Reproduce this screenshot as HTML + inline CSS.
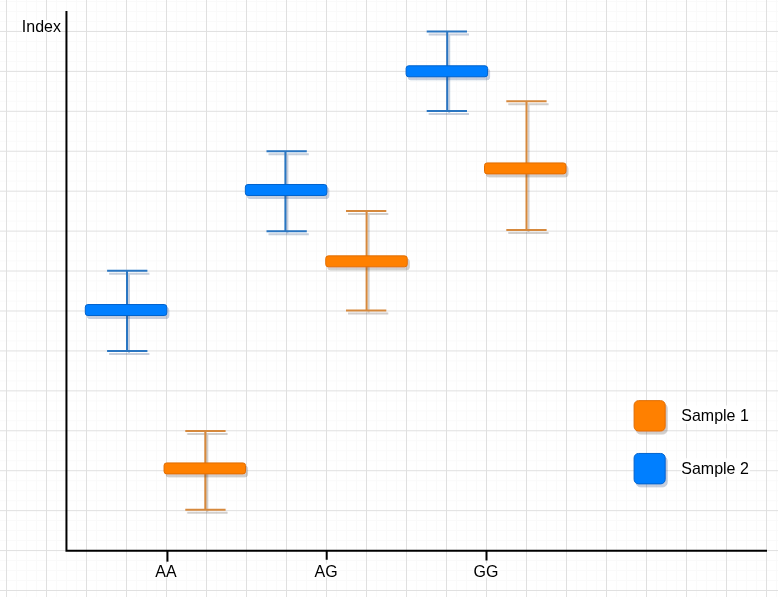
<!DOCTYPE html><html><head><meta charset="utf-8"><style>html,body{margin:0;padding:0;background:#fff;overflow:hidden}svg{display:block;filter:blur(0.4px)}text{font-family:"Liberation Sans",sans-serif;font-size:16px;fill:#000}</style></head><body><svg width="778" height="597" viewBox="0 0 778 598" preserveAspectRatio="none"><defs><filter id="nf" x="-10%" y="-10%" width="120%" height="120%"><feOffset dx="0" dy="0"/></filter><filter id="shb" x="-20%" y="-50%" width="140%" height="200%"><feGaussianBlur in="SourceAlpha" stdDeviation="0.6" result="b"/><feOffset in="b" dx="1.5" dy="2.8" result="o"/><feFlood flood-color="#2a4a80" flood-opacity="0.27"/><feComposite in2="o" operator="in" result="s"/><feMerge><feMergeNode in="s"/><feMergeNode in="SourceGraphic"/></feMerge></filter><filter id="sho" x="-20%" y="-50%" width="140%" height="200%"><feGaussianBlur in="SourceAlpha" stdDeviation="0.6" result="b"/><feOffset in="b" dx="1.5" dy="2.8" result="o"/><feFlood flood-color="#5a4a40" flood-opacity="0.27"/><feComposite in2="o" operator="in" result="s"/><feMerge><feMergeNode in="s"/><feMergeNode in="SourceGraphic"/></feMerge></filter></defs><rect width="778" height="598" fill="#fff"/><path d="M16.5 0V598M26.5 0V598M36.5 0V598M56.5 0V598M66.5 0V598M76.5 0V598M96.5 0V598M106.5 0V598M116.5 0V598M136.5 0V598M146.5 0V598M156.5 0V598M176.5 0V598M186.5 0V598M196.5 0V598M216.5 0V598M226.5 0V598M236.5 0V598M256.5 0V598M266.5 0V598M276.5 0V598M296.5 0V598M306.5 0V598M316.5 0V598M336.5 0V598M346.5 0V598M356.5 0V598M376.5 0V598M386.5 0V598M396.5 0V598M416.5 0V598M426.5 0V598M436.5 0V598M456.5 0V598M466.5 0V598M476.5 0V598M496.5 0V598M506.5 0V598M516.5 0V598M536.5 0V598M546.5 0V598M556.5 0V598M576.5 0V598M586.5 0V598M596.5 0V598M616.5 0V598M626.5 0V598M636.5 0V598M656.5 0V598M666.5 0V598M676.5 0V598M696.5 0V598M706.5 0V598M716.5 0V598M736.5 0V598M746.5 0V598M756.5 0V598M776.5 0V598M0 1.5H778M0 11.5H778M0 21.5H778M0 41.5H778M0 51.5H778M0 61.5H778M0 81.5H778M0 91.5H778M0 101.5H778M0 121.5H778M0 131.5H778M0 141.5H778M0 161.5H778M0 171.5H778M0 181.5H778M0 201.5H778M0 211.5H778M0 221.5H778M0 241.5H778M0 251.5H778M0 261.5H778M0 281.5H778M0 291.5H778M0 301.5H778M0 321.5H778M0 331.5H778M0 341.5H778M0 361.5H778M0 371.5H778M0 381.5H778M0 401.5H778M0 411.5H778M0 421.5H778M0 441.5H778M0 451.5H778M0 461.5H778M0 481.5H778M0 491.5H778M0 501.5H778M0 521.5H778M0 531.5H778M0 541.5H778M0 561.5H778M0 571.5H778M0 581.5H778" stroke="#fafafa" stroke-width="1" fill="none"/><path d="M6.5 0V598M46.5 0V598M86.5 0V598M126.5 0V598M166.5 0V598M206.5 0V598M246.5 0V598M286.5 0V598M326.5 0V598M366.5 0V598M406.5 0V598M446.5 0V598M486.5 0V598M526.5 0V598M566.5 0V598M606.5 0V598M646.5 0V598M686.5 0V598M726.5 0V598M766.5 0V598M0 31.5H778M0 71.5H778M0 111.5H778M0 151.5H778M0 191.5H778M0 231.5H778M0 271.5H778M0 311.5H778M0 351.5H778M0 391.5H778M0 431.5H778M0 471.5H778M0 511.5H778M0 551.5H778M0 591.5H778" stroke="#e0e0e0" stroke-width="1" fill="none"/><rect x="21.9" y="20.5" width="39" height="11.9" fill="#fff"/><g filter="url(#nf)"><text x="21.8" y="32">Index</text></g><path d="M66.45 11V551.7H767" stroke="#000" stroke-width="2" fill="none" stroke-linejoin="miter"/><path d="M167.45 551V562.6" stroke="#000" stroke-width="2"/><path d="M326.7 551V560.7" stroke="#000" stroke-width="2"/><path d="M486.5 551V561.4" stroke="#000" stroke-width="2"/><rect x="153" y="564.5" width="26" height="14" fill="#fff" opacity="0.85"/><g filter="url(#nf)"><text x="166" y="577.9" text-anchor="middle">AA</text></g><rect x="313.1" y="564.5" width="26" height="14" fill="#fff" opacity="0.85"/><g filter="url(#nf)"><text x="326.1" y="577.9" text-anchor="middle">AG</text></g><rect x="473.0" y="564.5" width="26" height="14" fill="#fff" opacity="0.85"/><g filter="url(#nf)"><text x="486.0" y="577.9" text-anchor="middle">GG</text></g><path filter="url(#shb)" d="M107.1 271.3H147.40M107.1 351.5H147.40M127.0 271.3V351.5" stroke="#2a76c2" stroke-width="2" fill="none"/><rect filter="url(#shb)" x="85.30" y="305.05" width="81.50" height="11.00" rx="2.6" fill="#007fff" stroke="#0062cc" stroke-width="1"/><path filter="url(#sho)" d="M185.3 431.6H225.60M185.3 510.5H225.60M205.3 431.6V510.5" stroke="#d6893d" stroke-width="2" fill="none"/><rect filter="url(#sho)" x="164.05" y="463.70" width="81.50" height="11.00" rx="2.6" fill="#ff8000" stroke="#e06c00" stroke-width="1"/><path filter="url(#shb)" d="M266.5 151.45H306.80M266.5 231.7H306.80M285.4 151.45V231.7" stroke="#2a76c2" stroke-width="2" fill="none"/><rect filter="url(#shb)" x="245.35" y="184.80" width="81.50" height="11.00" rx="2.6" fill="#007fff" stroke="#0062cc" stroke-width="1"/><path filter="url(#sho)" d="M346.0 211.25H386.30M346.0 311.1H386.30M366.6 211.25V311.1" stroke="#d6893d" stroke-width="2" fill="none"/><rect filter="url(#sho)" x="325.75" y="256.30" width="81.50" height="11.00" rx="2.6" fill="#ff8000" stroke="#e06c00" stroke-width="1"/><path filter="url(#shb)" d="M426.7 31.45H467.00M426.7 111.3H467.00M447.2 31.45V111.3" stroke="#2a76c2" stroke-width="2" fill="none"/><rect filter="url(#shb)" x="406.10" y="65.90" width="81.50" height="11.00" rx="2.6" fill="#007fff" stroke="#0062cc" stroke-width="1"/><path filter="url(#sho)" d="M506.3 101.5H546.60M506.3 230.4H546.60M526.5 101.5V230.4" stroke="#d6893d" stroke-width="2" fill="none"/><rect filter="url(#sho)" x="484.50" y="163.20" width="81.50" height="11.00" rx="2.6" fill="#ff8000" stroke="#e06c00" stroke-width="1"/><rect filter="url(#sho)" x="634.1" y="401.3" width="31.10" height="30.50" rx="4.5" fill="#ff8000" stroke="#e06c00" stroke-width="1"/><rect x="681" y="406.10" width="69" height="18.5" fill="#fff" opacity="0.8"/><g filter="url(#nf)"><text x="681.3" y="421.70">Sample 1</text></g><rect filter="url(#shb)" x="634.1" y="454.2" width="31.10" height="30.50" rx="4.5" fill="#007fff" stroke="#0062cc" stroke-width="1"/><rect x="681" y="459.00" width="69" height="18.5" fill="#fff" opacity="0.8"/><g filter="url(#nf)"><text x="681.3" y="474.60">Sample 2</text></g></svg></body></html>
